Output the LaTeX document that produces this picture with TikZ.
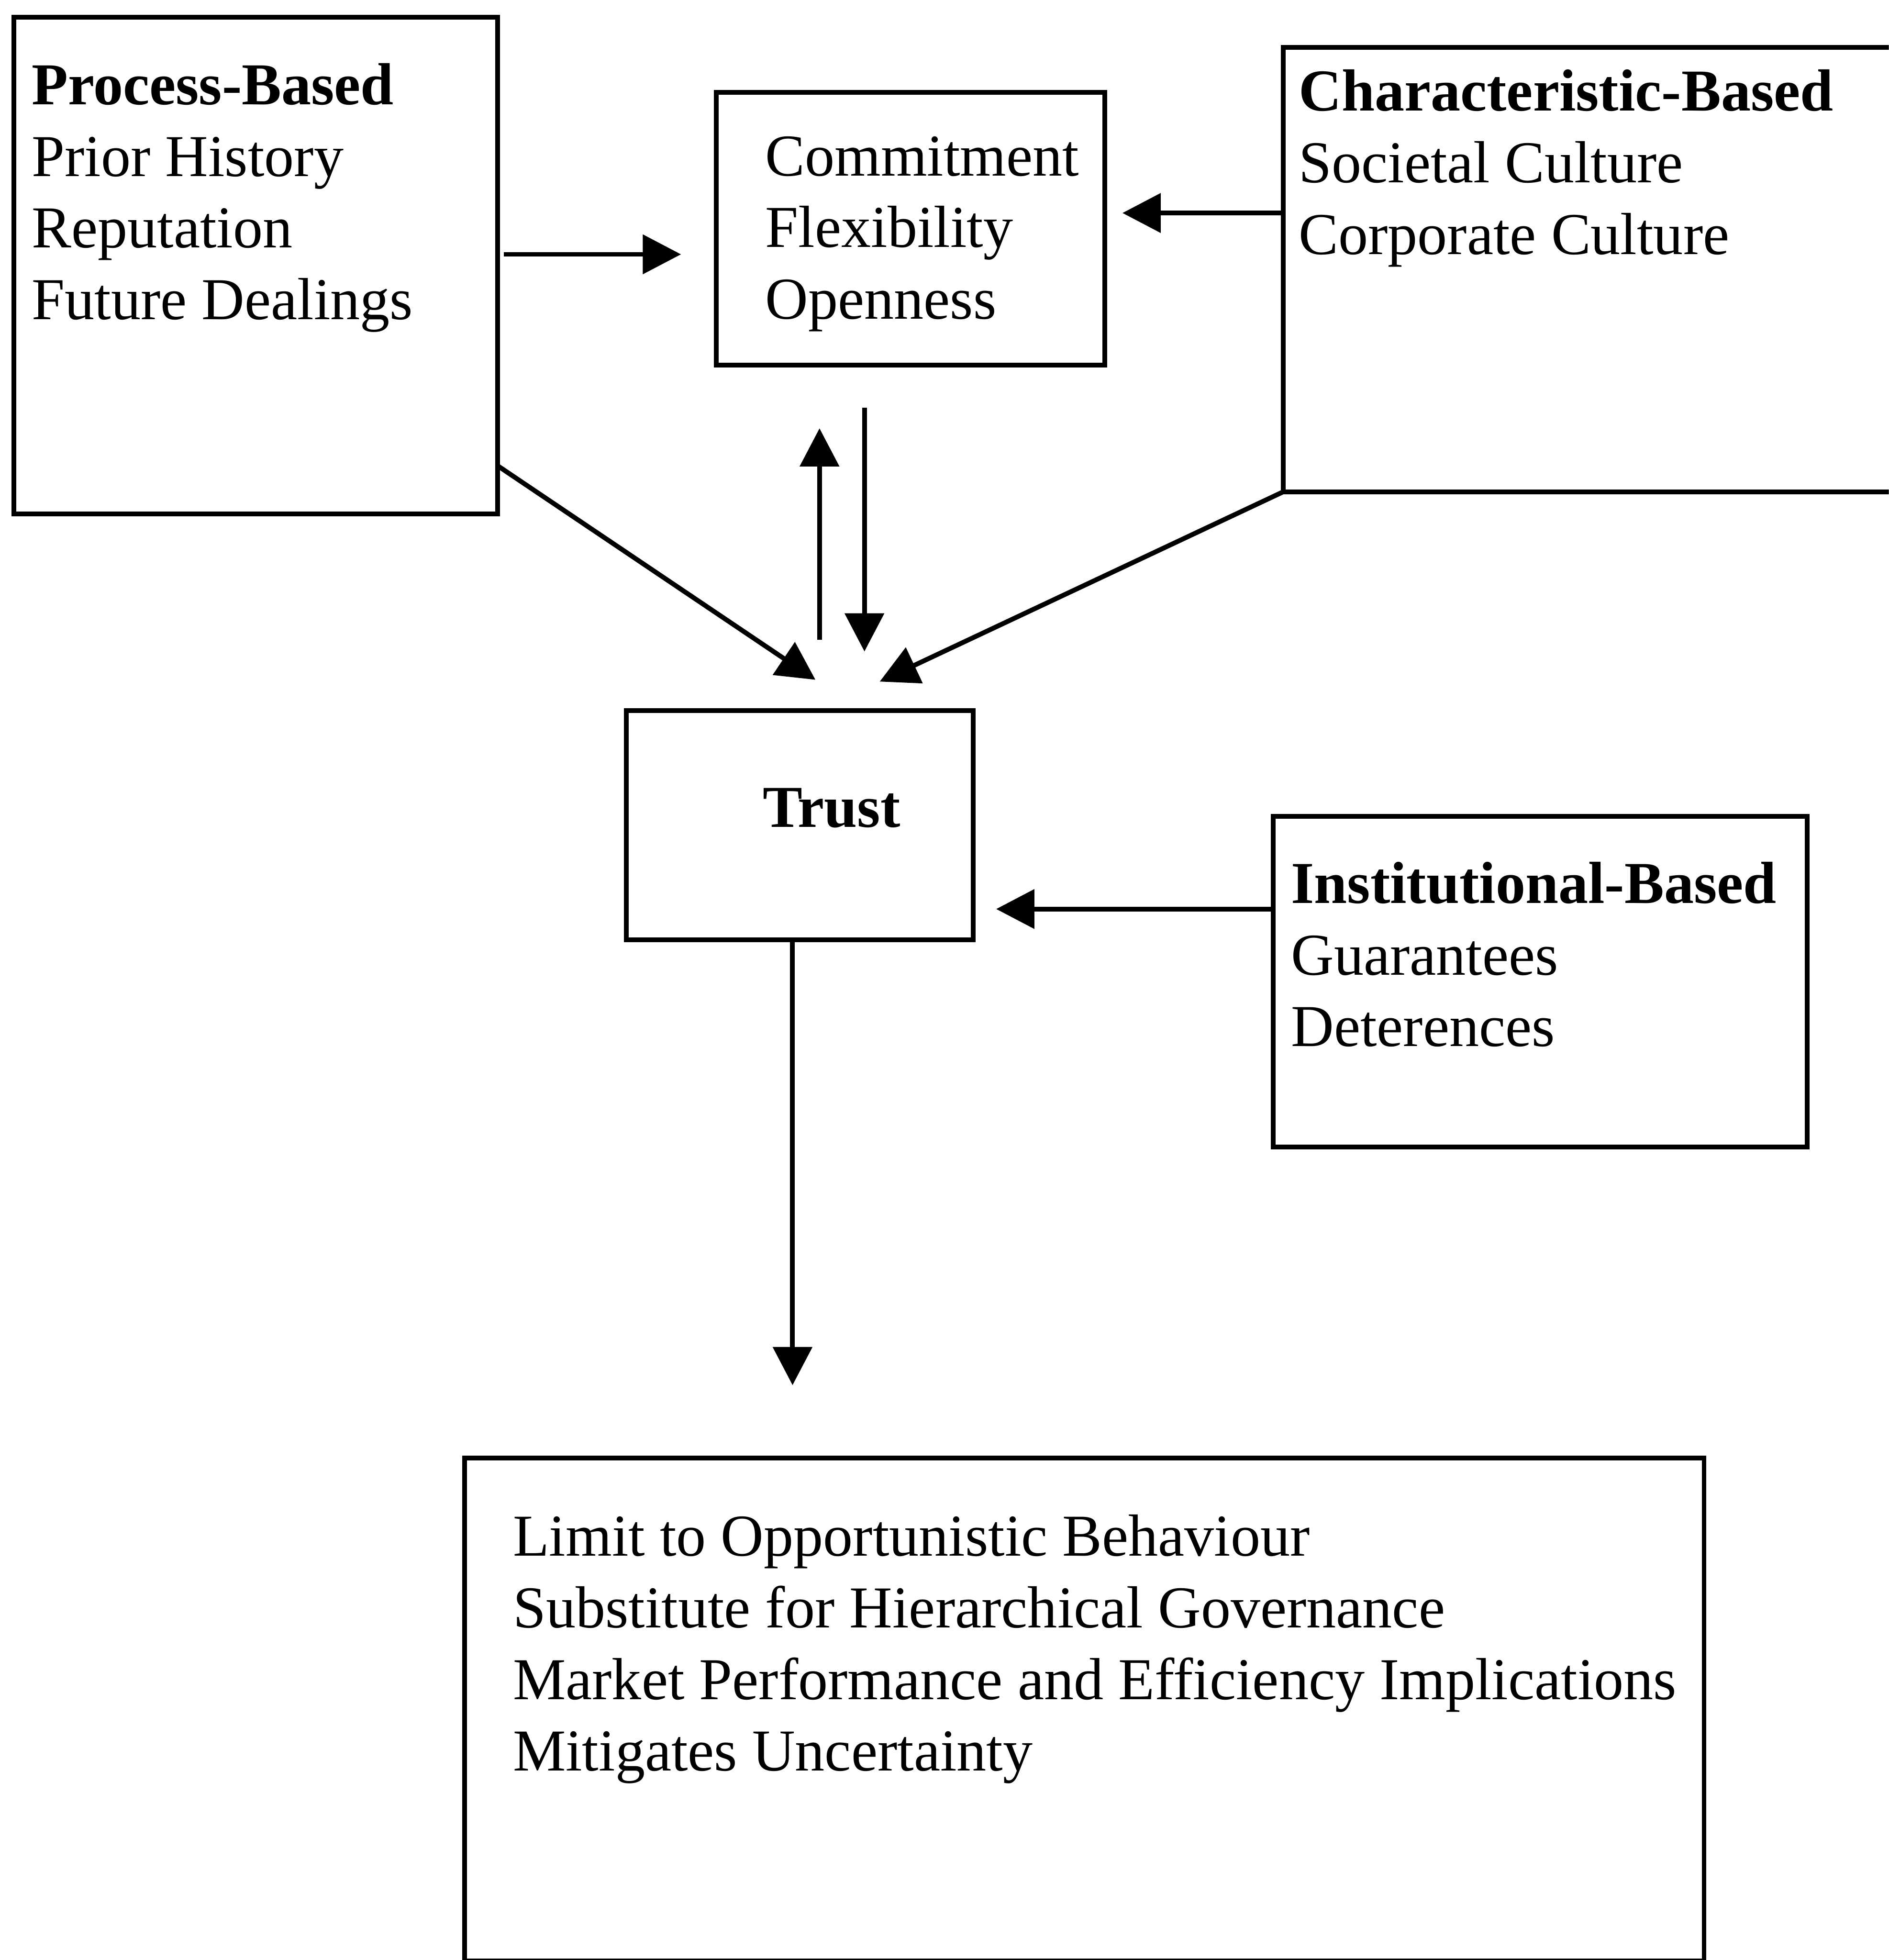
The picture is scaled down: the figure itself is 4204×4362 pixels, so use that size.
\documentclass[tikz,border=0pt]{standalone}
\usepackage{fontspec}
\setmainfont{Liberation Serif}
\usetikzlibrary{arrows.meta,calc}
\newcommand{\lines}[1]{\begin{tabular}[t]{@{}l@{}}#1\end{tabular}}
\begin{document}
\begin{tikzpicture}[x=0.01cm,y=-0.01cm,
  box/.style={draw, line width=3pt, inner sep=0pt, outer sep=0pt},
  txt/.style={anchor=base west, inner sep=0pt,
    font=\fontsize{37.6}{45.3}\selectfont},
  arr/.style={line width=3pt, -{Triangle[length=0.85cm,width=0.86cm]}}]
\useasboundingbox (0,0) rectangle (4204,4362);
\clip (0,0) rectangle (4204,4362);
\fill[white] (0,0) rectangle (4204,4362);

% boxes
\node[box, minimum width=10.76cm, minimum height=11.04cm] (proc) at (569,591) {};
\node[box, minimum width=8.65cm, minimum height=6.06cm] (commit) at (2026.5,509) {};
\node[box, minimum width=14.23cm, minimum height=9.88cm] (charb) at (3568.5,600) {};
\node[box, minimum width=7.72cm, minimum height=5.09cm] (trust) at (1780,1836.5) {};
\node[box, minimum width=11.88cm, minimum height=7.35cm] (inst) at (3428,2184.5) {};
\node[box, minimum width=27.57cm, minimum height=11.19cm] (outc) at (2413.5,3804.5) {};

% box texts
\node[txt] (proctxt) at (70,233) {\lines{\textbf{Process-Based}\\Prior History\\Reputation\\Future Dealings}};
\node[txt] (committxt) at (1703,391) {\lines{Commitment\\Flexibility\\Openness}};
\node[txt] (chartxt) at (2890,247) {\lines{\textbf{Characteristic-Based}\\Societal Culture\\Corporate Culture}};
\node[txt] (trusttxt) at (1697,1841) {\textbf{Trust}};
\node[txt] (insttxt) at (2873,2010) {\lines{\textbf{Institutional-Based}\\Guarantees\\Deterences}};
\node[txt] (outctxt) at (1141,3463) {\lines{Limit to Opportunistic Behaviour\\Substitute for Hierarchical Governance\\Market Performance and Efficiency Implications\\Mitigates Uncertainty}};

% connectors
\draw[arr] ($(proc.east)+(14,-25)$) -- ($(commit.west)+(-78,57)$);
\draw[arr] ($(charb.west)+(0,-126)$) -- ($(commit.east)+(39,-35)$);
\draw[arr] ($(proc.south east)+(0,-107)$) -- ($(trust.north)+(35,-69)$);
\draw[arr] ($(trust.north)+(44,-158)$) -- ($(commit.south)+(-202.5,141)$);
\draw[arr] ($(commit.south)+(-102.5,95)$) -- ($(trust.north)+(144,-132)$);
\draw[arr] (charb.south west) -- ($(trust.north)+(178,-65)$);
\draw[arr] ($(inst.west)+(0,-161.5)$) -- ($(trust.east)+(51,186.5)$);
\draw[arr] ($(trust.south)+(-16,0)$) -- ($(outc.north)+(-649.5,-162)$);
\end{tikzpicture}
\end{document}
